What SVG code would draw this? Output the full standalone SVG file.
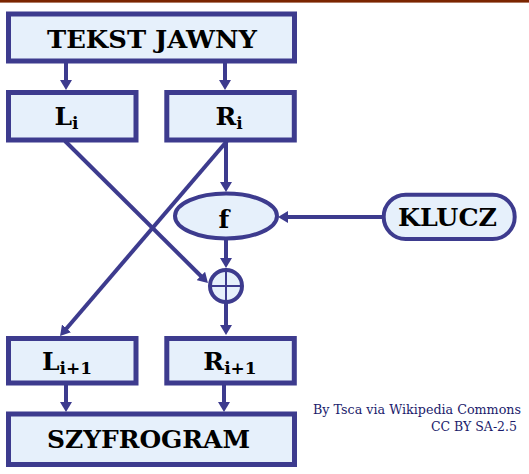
<svg xmlns="http://www.w3.org/2000/svg" width="529" height="474" viewBox="0 0 529 474">
<style>
.box{fill:#e6f0fb;stroke:#3d3b8e;stroke-width:5}
.node{fill:#e6f0fb;stroke:#3d3b8e;stroke-width:4}
.lbl{font-family:"DejaVu Serif","Liberation Serif",serif;font-weight:bold;font-size:25px;fill:#000;text-anchor:middle}
.sub{font-size:17px}
.con{stroke:#3d3b8e;stroke-width:4;fill:none;marker-end:url(#ah)}
.credit{font-family:"DejaVu Serif","Liberation Serif",serif;font-size:13px;fill:#1b1b6b;text-anchor:end}
</style>
<defs>
<marker id="ah" markerWidth="12" markerHeight="12" refX="5" refY="6" orient="auto" markerUnits="userSpaceOnUse">
<path d="M0,0 L10,6 L0,12 z" fill="#3d3b8e"/>
</marker>
</defs>
<rect x="0" y="0" width="529" height="474" fill="#fff"/>
<rect x="0" y="0" width="529" height="2.6" fill="#7b2500"/>
<g id="connectors">
<line class="con" x1="66" y1="63" x2="66" y2="85"/>
<line class="con" x1="225" y1="63" x2="225" y2="85"/>
<line class="con" x1="65" y1="141" x2="204.4" y2="279.5"/>
<line class="con" x1="227" y1="141" x2="63.3" y2="332.2"/>
<line class="con" x1="226" y1="142" x2="226" y2="187"/>
<line class="con" x1="382" y1="217" x2="283" y2="217"/>
<line class="con" x1="226" y1="240" x2="226" y2="263"/>
<line class="con" x1="226" y1="302" x2="226" y2="330"/>
<line class="con" x1="66" y1="385" x2="66" y2="407"/>
<line class="con" x1="224" y1="385" x2="224" y2="407"/>
</g>
<g id="tekst">
<rect class="box" x="8.5" y="14" width="286" height="47"/>
<text class="lbl" x="152" y="48" textLength="210" lengthAdjust="spacingAndGlyphs">TEKST JAWNY</text>
</g>
<g id="li">
<rect class="box" x="8.5" y="92.5" width="127.5" height="47.5"/>
<text class="lbl" x="66.5" y="125">L<tspan class="sub" dy="4">i</tspan></text>
</g>
<g id="ri">
<rect class="box" x="166.8" y="92.5" width="127.5" height="47.5"/>
<text class="lbl" x="229" y="125">R<tspan class="sub" dy="4">i</tspan></text>
</g>
<g id="f">
<ellipse class="node" cx="226" cy="216" rx="51" ry="22.5"/>
<text class="lbl" x="224" y="228">f</text>
</g>
<g id="klucz">
<rect class="node" x="383.7" y="194.7" width="131" height="44.3" rx="22" ry="22"/>
<text class="lbl" x="447.5" y="226" textLength="99" lengthAdjust="spacingAndGlyphs">KLUCZ</text>
</g>
<g id="xor">
<circle class="node" cx="226" cy="286" r="16"/>
<line x1="210" y1="286" x2="242" y2="286" stroke="#3d3b8e" stroke-width="2"/>
<line x1="226" y1="270" x2="226" y2="302" stroke="#3d3b8e" stroke-width="2"/>
</g>
<g id="li1">
<rect class="box" x="8.5" y="338.5" width="127.5" height="44.5"/>
<text class="lbl" x="67" y="370">L<tspan class="sub" dy="4">i+1</tspan></text>
</g>
<g id="ri1">
<rect class="box" x="166.8" y="338.5" width="127.5" height="44.5"/>
<text class="lbl" x="230" y="370">R<tspan class="sub" dy="4">i+1</tspan></text>
</g>
<g id="szyfrogram">
<rect class="box" x="8.5" y="414" width="286" height="50.5"/>
<text class="lbl" x="148.5" y="448" textLength="203" lengthAdjust="spacingAndGlyphs">SZYFROGRAM</text>
</g>
<g id="credit">
<text class="credit" x="521" y="414" textLength="208" lengthAdjust="spacingAndGlyphs">By Tsca via Wikipedia Commons</text>
<text class="credit" x="517" y="431" textLength="86" lengthAdjust="spacingAndGlyphs">CC BY SA-2.5</text>
</g>
</svg>
